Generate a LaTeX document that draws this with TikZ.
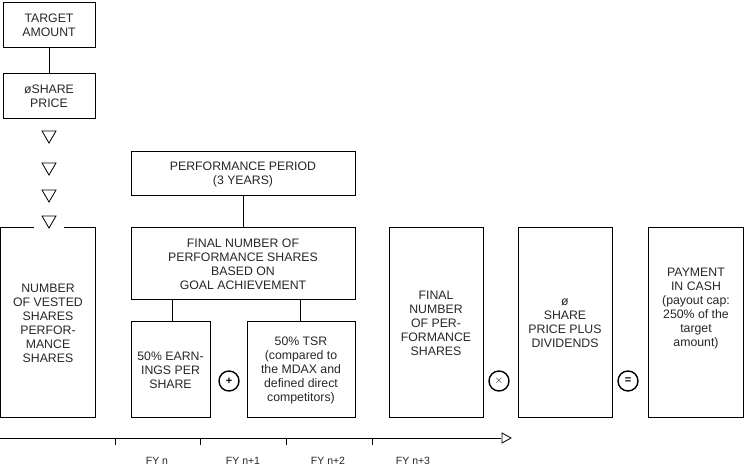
\documentclass[tikz,border=0pt]{standalone}
\usepackage{fontspec}
\setmainfont{Liberation Sans}
\begin{document}
\begin{tikzpicture}[x=1pt,y=-1pt,line width=1pt,
  txt/.style={text=black!85,font=\fontsize{12.3}{14}\selectfont,align=center},
  box/.style={draw,txt,inner sep=0pt},
  op/.style={draw,circle,line width=1.4pt,minimum size=20pt,inner sep=0pt,font=\bfseries\fontsize{11}{11}\selectfont},
  tri/.style={draw,line width=0.8pt},
  fy/.style={text=black!85,font=\fontsize{10.5}{11}\selectfont}]
\useasboundingbox (0,0) rectangle (745,470);
\node[box,minimum width=92pt,minimum height=45pt] (ta) at (49,25.5) {TARGET\\AMOUNT};
\node[box,minimum width=92pt,minimum height=45pt] (sp) at (49,96.5) {\o SHARE\\PRICE};
\draw (ta.south) -- (sp.north);
\foreach \y/\n in {137/t1,169/t2,196/t3,222/t4}
  \draw[tri] (42,\y-6) -- (56,\y-6) -- (49,\y+6) -- cycle;
\coordinate (vtl) at (0.5,228); \coordinate (vtr) at (95,228);
\node[txt,anchor=center] (vb) at (48,323) {NUMBER\\OF VESTED\\SHARES\\PERFOR-\\MANCE\\SHARES};
\draw (34,228) -- (vtl) -- (0.5,418) -- (95,418) -- (vtr) -- (64,228);
\node[box,minimum width=224pt,minimum height=44pt] (pp) at (243,174) {PERFORMANCE PERIOD\\(3 YEARS)};
\node[box,minimum width=224pt,minimum height=72pt] (fn) at (243,264) {FINAL NUMBER OF\\PERFORMANCE SHARES\\BASED ON\\GOAL ACHIEVEMENT};
\draw (pp.south) -- (fn.north);
\node[box,minimum width=79pt,minimum height=96pt] (eps) at (170.5,370) {50\% EARN-\\INGS PER\\SHARE};
\node[box,minimum width=108pt,minimum height=96pt] (tsr) at (301,370) {50\% TSR\\(compared to\\the MDAX and\\defined direct\\competitors)};
\draw (172,300) -- (172,322);
\draw (300,300) -- (300,322);
\node[op] (plus) at (229,381) {+};
\node[op] (times) at (499,381) {$\times$};
\node[op] (eq) at (628,381) {=};
\node[box,minimum width=94pt,minimum height=190pt] (ff) at (436,323) {FINAL\\NUMBER\\OF PER-\\FORMANCE\\SHARES};
\node[box,minimum width=94pt,minimum height=190pt] (sd) at (565,323) {\o\\SHARE\\PRICE PLUS\\DIVIDENDS};
\node[box,minimum width=95pt,minimum height=190pt] (pay) at (696,323) {};
\node[txt] (payt) at (696,309) {PAYMENT\\IN CASH\\(payout cap:\\250\% of the\\target\\amount)};
\coordinate (ts) at (0,438); \coordinate (te) at (501,438);
\draw[line width=0.8pt] (ts) -- (te);
\draw[tri] (502,433) -- (511,438) -- (502,443) -- cycle;
\foreach \x in {115,200,286,372} \draw[line width=0.8pt] (\x,438) -- (\x,445);
\node[fy] (f0) at (157,461) {FY n};
\node[fy] (f1) at (243,461) {FY n+1};
\node[fy] (f2) at (328,461) {FY n+2};
\node[fy] (f3) at (413,461) {FY n+3};
\end{tikzpicture}
\end{document}
